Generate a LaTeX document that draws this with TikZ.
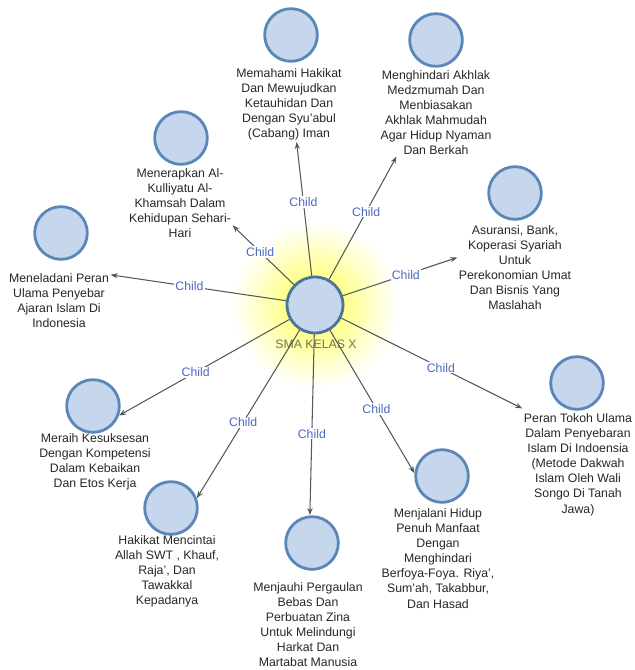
\documentclass[tikz,border=0pt]{standalone}
\usepackage{fontspec}
\setmainfont{Liberation Sans}
\usetikzlibrary{arrows.meta, fit}

\definecolor{nodefill}{HTML}{C6D6EC}
\definecolor{nodeedge}{HTML}{5A87B8}
\definecolor{linkgray}{HTML}{4F5C58}
\definecolor{childblue}{HTML}{4A68C0}
\definecolor{hubtext}{HTML}{7A7548}

\begin{document}
\begin{tikzpicture}[
    x=0.03cm, y=-0.03cm,
    every node/.style={font=\fontsize{10.5}{12.9}\selectfont},
    topic/.style={circle, draw=nodeedge, fill=nodefill, line width=2.4pt,
        minimum size=1.58cm, inner sep=0pt},
    hubtopic/.style={topic, minimum size=1.68cm, draw=nodeedge!85!black},
    caption/.style={align=center, anchor=north, inner sep=1pt, text=black!85},
    box/.style={inner sep=0pt},
    link/.style={draw=linkgray, line width=0.9pt, -{Stealth[length=6pt, width=4.5pt]}},
    childlabel/.style={text=childblue, fill=white, inner sep=1pt, pos=0.55}
]
\useasboundingbox (0,0) rectangle (634,670);

% cahaya kuning di belakang pusat
\shade[inner color=yellow!70, outer color=white] (315,305) circle (2.5cm);

% Pusat
\node[hubtopic] (hub) at (315,305) {};
\node[text=hubtext] (hubname) at (316,344) {SMA KELAS X};

% Anak - atas
\node[topic] (c1) at (291,35) {};
\node[caption] (t1) at (289,67) {Memahami Hakikat\\Dan Mewujudkan\\Ketauhidan Dan\\Dengan Syu'abul\\(Cabang) Iman};
\node[box, fit=(c1)(t1)] (n1) {};

\node[topic] (c2) at (436,40) {};
\node[caption] (t2) at (436,69) {Menghindari Akhlak\\Medzmumah Dan\\Menbiasakan\\Akhlak Mahmudah\\Agar Hidup Nyaman\\Dan Berkah};
\node[box, fit=(c2)(t2)] (n2) {};

\node[topic] (c3) at (181,138) {};
\node[caption] (t3) at (180,167) {Menerapkan Al-\\Kulliyatu Al-\\Khamsah Dalam\\Kehidupan Sehari-\\Hari};
\node[box, fit=(c3)(t3)] (n3) {};

% Anak - kiri dan kanan
\node[topic] (c4) at (61,233) {};
\node[caption] (t4) at (59,272) {Meneladani Peran\\Ulama Penyebar\\Ajaran Islam Di\\Indonesia};
\node[box, fit=(c4)(t4)] (n4) {};

\node[topic] (c5) at (515,193) {};
\node[caption] (t5) at (515,224) {Asuransi, Bank,\\Koperasi Syariah\\Untuk\\Perekonomian Umat\\Dan Bisnis Yang\\Maslahah};
\node[box, fit=(c5)(t5)] (n5) {};

\node[topic] (c6) at (577,383) {};
\node[caption] (t6) at (578,412) {Peran Tokoh Ulama\\Dalam Penyebaran\\Islam Di Indoensia\\(Metode Dakwah\\Islam Oleh Wali\\Songo Di Tanah\\Jawa)};
\node[box, fit=(c6)(t6)] (n6) {};

% Anak - bawah
\node[topic] (c7) at (442,476) {};
\node[caption] (t7) at (438,507) {Menjalani Hidup\\Penuh Manfaat\\Dengan\\Menghindari\\Berfoya-Foya. Riya',\\Sum'ah, Takabbur,\\Dan Hasad};

\node[topic] (c8) at (312,543) {};
\node[caption] (t8) at (308,581) {Menjauhi Pergaulan\\Bebas Dan\\Perbuatan Zina\\Untuk Melindungi\\Harkat Dan\\Martabat Manusia};
\node[box, fit=(c8)(t8)] (n8) {};

\node[topic] (c9) at (171,508) {};
\node[caption] (t9) at (167,534) {Hakikat Mencintai\\Allah SWT , Khauf,\\Raja', Dan\\Tawakkal\\Kepadanya};

\node[topic] (c10) at (93,406) {};
\node[caption] (t10) at (95,432) {Meraih Kesuksesan\\Dengan Kompetensi\\Dalam Kebaikan\\Dan Etos Kerja};

% Panah
\draw[link] (hub) -- node[childlabel] {Child} (n1);
\draw[link] (hub) -- node[childlabel] {Child} (n2);
\draw[link] (hub) -- node[childlabel] {Child} (n3);
\draw[link] (hub) -- node[childlabel] {Child} (n4);
\draw[link] (hub) -- node[childlabel] {Child} (n5);
\draw[link] (hub) -- node[childlabel] {Child} (n6);
\draw[link] (hub) -- node[childlabel] {Child} (c7.174);
\draw[link] (hub) -- node[childlabel] {Child} (n8);
\draw[link] (hub) -- node[childlabel] {Child} (c9.21);
\draw[link] (hub) -- node[childlabel] {Child} (c10.-20);

\end{tikzpicture}
\end{document}
